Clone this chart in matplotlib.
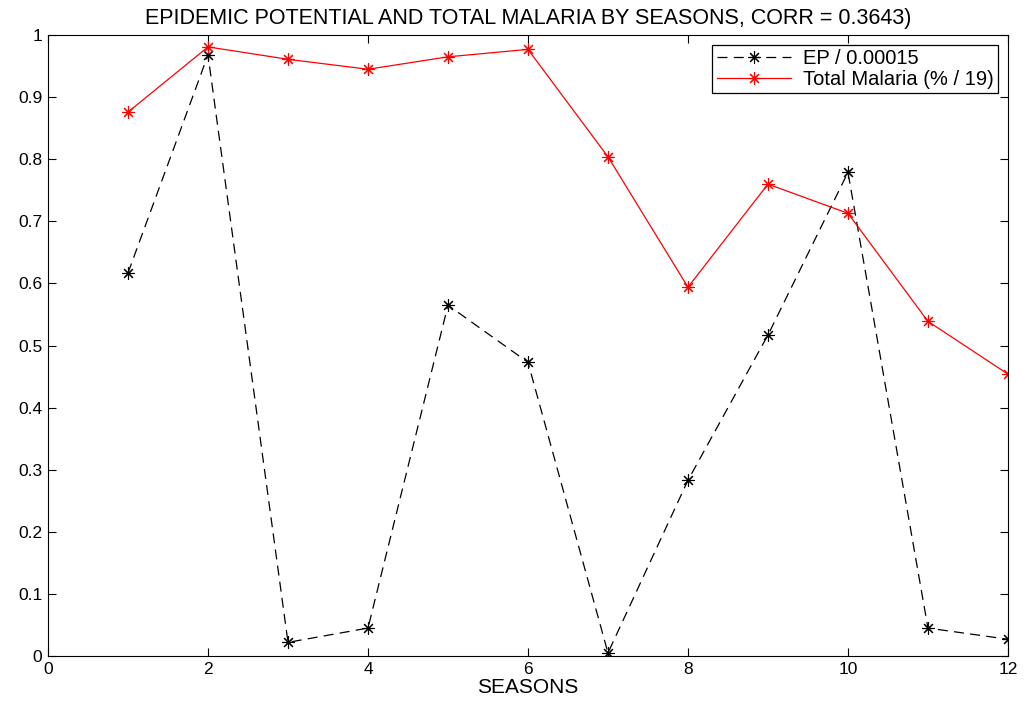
import matplotlib
matplotlib.use('Agg')
import matplotlib.pyplot as plt

seasons = [1, 2, 3, 4, 5, 6, 7, 8, 9, 10, 11, 12]
ep_scaled = [0.617, 0.968, 0.022, 0.045, 0.565, 0.473, 0.005, 0.283, 0.517, 0.779, 0.045, 0.027]
malaria_scaled = [0.876, 0.981, 0.961, 0.945, 0.965, 0.977, 0.804, 0.594, 0.760, 0.713, 0.539, 0.454]

plt.rcParams['font.family'] = ['Liberation Sans', 'DejaVu Sans']
plt.rcParams['font.size'] = 12

fig = plt.figure(figsize=(10.28, 7.02), dpi=100)
ax = fig.add_axes([0.0467, 0.0655, 0.9338, 0.8845])

# matlab style '*' marker: eight thin spokes
star = (8, 2, 0)
ax.plot(seasons, ep_scaled, color='black', linestyle='--', dashes=(8, 5),
        marker=star, markersize=9, markeredgewidth=0.8, linewidth=0.9,
        label='EP / 0.00015')
ax.plot(seasons, malaria_scaled, color='red', linestyle='-',
        marker=star, markersize=9, markeredgewidth=0.8, linewidth=0.9,
        label='Total Malaria (% / 19)')

ax.set_xlim(0, 12)
ax.set_ylim(0, 1)
ax.set_xticks(range(0, 13, 2))
ax.set_yticks([i / 10 for i in range(11)])
ax.set_yticklabels(['0', '0.1', '0.2', '0.3', '0.4', '0.5', '0.6', '0.7', '0.8', '0.9', '1'])
ax.tick_params(direction='in', top=True, right=True, length=6, pad=4, labelsize=12.5)
ax.set_xlabel('SEASONS', labelpad=1, fontsize=15)
ax.set_title('EPIDEMIC POTENTIAL AND TOTAL MALARIA BY SEASONS, CORR = 0.3643)',
             pad=8, fontsize=15.5)

leg = ax.legend(loc='upper right', fancybox=False, framealpha=1, edgecolor='black',
                borderaxespad=0.5, handlelength=3.7, fontsize=14.5,
                labelspacing=0.1, borderpad=0.2, handletextpad=0.6)
leg.get_frame().set_linewidth(0.9)

fig.savefig('out.png', dpi=100)
